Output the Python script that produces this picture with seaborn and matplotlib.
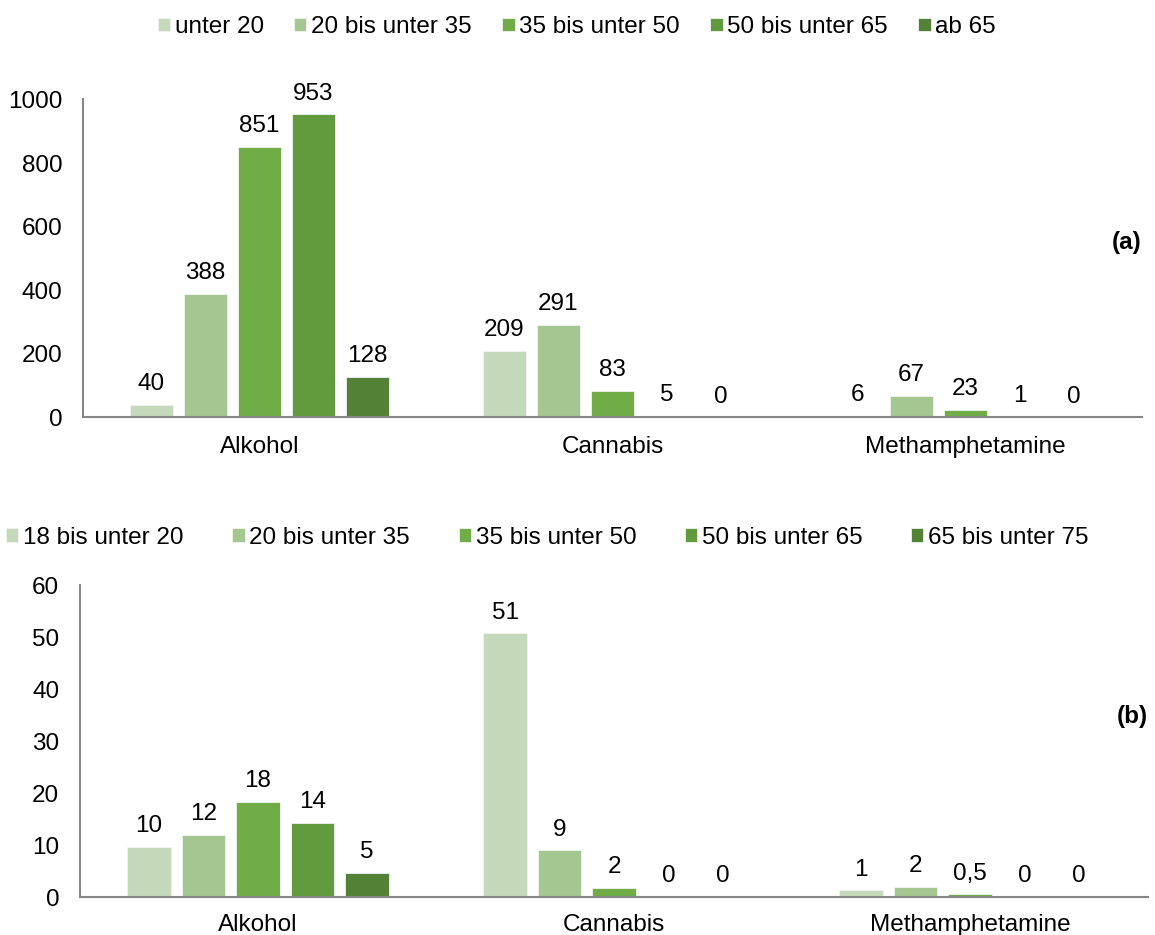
import numpy as np
import pandas as pd
import matplotlib
matplotlib.use("Agg")
import matplotlib.pyplot as plt
import seaborn as sns

# data
substanzen = ["Alkohol", "Cannabis", "Methamphetamine"]

alter_a = ["unter 20", "20 bis unter 35", "35 bis unter 50", "50 bis unter 65", "ab 65"]
alkohol_a = [40, 388, 851, 953, 128]
cannabis_a = [209, 291, 83, 5, 0]
meth_a = [6, 67, 23, 1, 0]

alter_b = ["18 bis unter 20", "20 bis unter 35", "35 bis unter 50", "50 bis unter 65", "65 bis unter 75"]
alkohol_b = [9.7, 11.9, 18.3, 14.3, 4.7]
cannabis_b = [50.7, 9.0, 1.7, 0, 0]
meth_b = [1.3, 2.0, 0.5, 0, 0]
alkohol_b_txt = ["10", "12", "18", "14", "5"]
cannabis_b_txt = ["51", "9", "2", "0", "0"]
meth_b_txt = ["1", "2", "0,5", "0", "0"]

farben = ["#C4D9BA", "#A4C691", "#70AD47", "#619B3D", "#538135"]
grau = "#868686"
fs = 17.5

sns.set_style("white")
plt.rcParams["font.family"] = ["Liberation Sans", "DejaVu Sans"]
plt.rcParams["font.size"] = fs
plt.rcParams["text.color"] = "black"
plt.rcParams["xtick.labelcolor"] = "black"
plt.rcParams["ytick.labelcolor"] = "black"


def long_df(alter, reihen):
    rows = []
    for sub, werte in zip(substanzen, reihen):
        for a, w in zip(alter, werte):
            rows.append({"Substanz": sub, "Alter": a, "Wert": w})
    return pd.DataFrame(rows)


def panel(ax, df, alter, labels, ymax, step, center_ticks, tag, tag_y, leg_y, leg_x, colsp):
    sns.barplot(data=df, x="Substanz", y="Wert", hue="Alter", hue_order=alter,
                order=substanzen, palette=farben, saturation=1, width=0.765, gap=0.2,
                edgecolor="#F2F2F2", linewidth=0.6, ax=ax)
    for cont, lab in zip(ax.containers, labels):
        ax.bar_label(cont, labels=lab, padding=7, fontsize=fs, color="black")
    ax.set_xlim(-0.5, 2.5)
    ax.set_ylim(0, ymax)
    ax.set_yticks(np.arange(0, ymax + 1, step))
    ax.set_xlabel("")
    ax.set_ylabel("")
    sns.despine(ax=ax)
    for s in ["left", "bottom"]:
        ax.spines[s].set_color(grau)
        ax.spines[s].set_linewidth(1.5)
    ax.tick_params(axis="y", length=6, width=1.2, color=grau, pad=9, labelsize=fs)
    ax.set_xticks([-0.5, 0.5, 1.5, 2.5], minor=True)
    ax.tick_params(axis="x", which="minor", length=6, width=1.2, color=grau)
    ax.tick_params(axis="x", which="major", length=6 if center_ticks else 0,
                   width=1.2, color=grau, pad=7 if center_ticks else 12, labelsize=fs)
    ax.text(1.0, tag_y, tag, transform=ax.transAxes, fontsize=fs,
            fontweight="bold", ha="right", va="center")
    h, l = ax.get_legend_handles_labels()
    ax.legend(h, l, loc="center", bbox_to_anchor=(leg_x, leg_y),
              bbox_transform=fig.transFigure, ncol=5, frameon=False,
              handlelength=0.5, handleheight=0.5, handletextpad=0.2,
              columnspacing=colsp, fontsize=fs)


fig = plt.figure(figsize=(11.55, 9.35), dpi=100)
ax1 = fig.add_axes([0.0719, 0.5535, 0.9168, 0.3401])
ax2 = fig.add_axes([0.0693, 0.0406, 0.9247, 0.3337])

df_a = long_df(alter_a, [alkohol_a, cannabis_a, meth_a])
lab_a = [[str(r[i]) for r in (alkohol_a, cannabis_a, meth_a)] for i in range(5)]
panel(ax1, df_a, alter_a, lab_a, 1000, 200, True, "(a)", 0.55, 0.971, 0.4995, 1.25)

df_b = long_df(alter_b, [alkohol_b, cannabis_b, meth_b])
lab_b = [[r[i] for r in (alkohol_b_txt, cannabis_b_txt, meth_b_txt)] for i in range(5)]
panel(ax2, df_b, alter_b, lab_b, 60, 10, False, "(b)", 0.58, 0.4246, 0.474, 2.0)

fig.savefig("out.png", dpi=100)
